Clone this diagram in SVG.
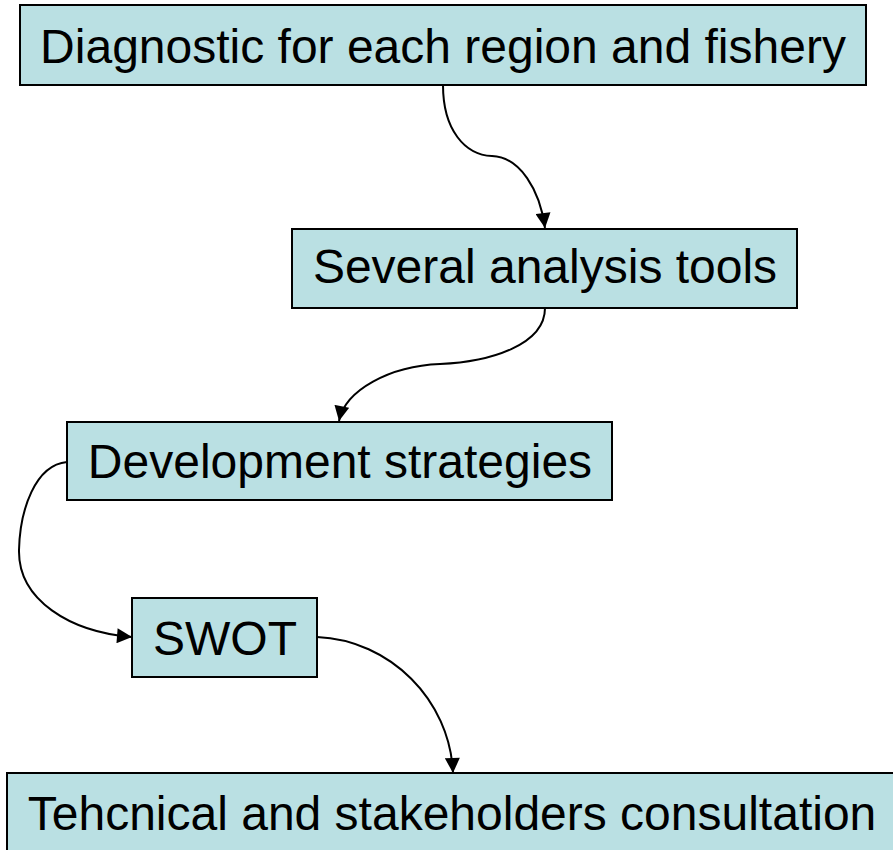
<svg xmlns="http://www.w3.org/2000/svg" width="893" height="850" viewBox="0 0 893 850">
<style>
.box{fill:#BAE0E3;stroke:#000;stroke-width:2}
.lbl{font-family:"Liberation Sans",Arial,sans-serif;font-size:48px;fill:#000;text-anchor:middle}
.con{fill:none;stroke:#000;stroke-width:2}
</style>
<defs>
<marker id="ah" viewBox="0 0 10 10" refX="10" refY="5" markerWidth="16" markerHeight="15" markerUnits="userSpaceOnUse" orient="auto">
<path d="M0,0 L10,5 L0,10 Z" fill="#000"/>
</marker>
</defs>
<rect width="893" height="850" fill="#fff"/>
<g id="connectors">
<path class="con" marker-end="url(#ah)" d="M443,85 C443,130 465,155 492,156 C520,157 540,190 545,228"/>
<path class="con" marker-end="url(#ah)" d="M545,308 C545,345 490,362 440,364 C390,366 345,390 339,421"/>
<path class="con" marker-end="url(#ah)" d="M67,462 C35,465 20,510 19,550 C18,600 70,632 132,637"/>
<path class="con" marker-end="url(#ah)" d="M317,637 C390,640 450,700 453,773"/>
</g>
<g id="n1"><rect class="box" x="20" y="5" width="846" height="80"/><text class="lbl" x="443" y="63">Diagnostic for each region and fishery</text></g>
<g id="n2"><rect class="box" x="292" y="229" width="505" height="79"/><text class="lbl" x="545" y="283">Several analysis tools</text></g>
<g id="n3"><rect class="box" x="67" y="422" width="545" height="78"/><text class="lbl" x="340" y="478">Development strategies</text></g>
<g id="n4"><rect class="box" x="132" y="598" width="185" height="79"/><text class="lbl" x="225" y="655">SWOT</text></g>
<g id="n5"><rect class="box" x="7" y="773" width="890" height="90"/><text class="lbl" x="452" y="830">Tehcnical and stakeholders consultation</text></g>
</svg>
